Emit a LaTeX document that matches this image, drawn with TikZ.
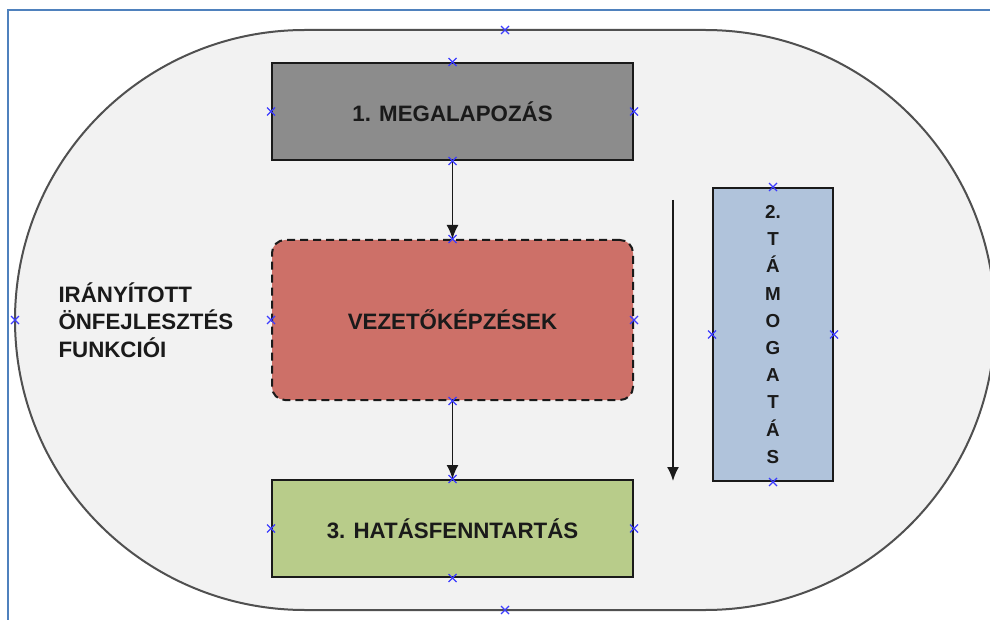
\documentclass[tikz,border=0pt]{standalone}
\usepackage{fontspec}
\setmainfont{Liberation Sans}
\usetikzlibrary{positioning,arrows.meta}
\definecolor{framecol}{RGB}{79,129,189}
\definecolor{ovalfill}{RGB}{242,242,242}
\definecolor{ovalline}{RGB}{80,80,80}
\definecolor{grayfill}{RGB}{140,140,140}
\definecolor{redfill}{RGB}{205,112,104}
\definecolor{greenfill}{RGB}{184,204,138}
\definecolor{bluefill}{RGB}{176,195,219}
\definecolor{cpcol}{RGB}{60,60,255}
\definecolor{txt}{RGB}{26,26,26}
\tikzstyle{phase}=[draw=txt, line width=2pt, minimum width=361pt, text centered, text=txt, font=\bfseries\fontsize{22.3}{26}\selectfont]
\tikzstyle{flow}=[-{Latex[length=14pt,width=12pt]}, line width=1.8pt, draw=txt]
\tikzstyle{cp}=[draw=cpcol, line width=1.1pt]

\begin{document}
\begin{tikzpicture}[x=1pt,y=-1pt,node distance=208.5pt,on grid]
   \clip (0,0) rectangle (990,620);
   \fill[white] (0,0) rectangle (990,620);
   % window edge
   \draw[framecol, line width=1.5pt] (8,620) -- (8,10) -- (990,10);
   % the oval around everything
   \draw[ovalline, fill=ovalfill, line width=2pt, rounded corners=290pt] (15,30) rectangle (995,610);

   \node[phase,fill=grayfill,minimum height=97pt] (B1) at (452.5,111.5) {1. MEGALAPOZÁS};
   \node[phase,fill=redfill,minimum height=160pt,dashed,dash pattern=on 8pt off 5pt,rounded corners=13pt] (B2) [below=of B1] {VEZETŐKÉPZÉSEK};
   \node[phase,fill=greenfill,minimum height=97pt] (B3) [below=of B2] {3. HATÁSFENNTARTÁS};
   \node[phase,fill=bluefill,minimum width=120pt,minimum height=293pt,align=center,
         font=\bfseries\fontsize{18.8}{27.2}\selectfont] (B4) at (773,334.5)
         {2.\\T\\Á\\M\\O\\G\\A\\T\\Á\\S};
   \node[text=txt,align=left,anchor=west,font=\bfseries\fontsize{22.3}{27.5}\selectfont] (L) at (55,320)
         {IRÁNYÍTOTT\\ÖNFEJLESZTÉS\\FUNKCIÓI};

   \coordinate (T0) at (673,200);
   \coordinate (T1) at (673,481);
   \path
   (B1.south) edge[flow] (B2.north)
   (B2.south) edge[flow] (B3.north)
   (T0) edge[flow] (T1);

   % connection points
   \foreach \n in {B1,B2,B3,B4}{
     \foreach \a in {north,south,east,west}{
       \draw[cp] (\n.\a) ++(-4,-4) -- ++(8,8) ++(-8,0) -- ++(8,-8);
     }
   }
   \foreach \p in {(505,30),(505,610),(15,320),(995,320)}{
     \draw[cp] \p ++(-4,-4) -- ++(8,8) ++(-8,0) -- ++(8,-8);
   }
\end{tikzpicture}
\end{document}
